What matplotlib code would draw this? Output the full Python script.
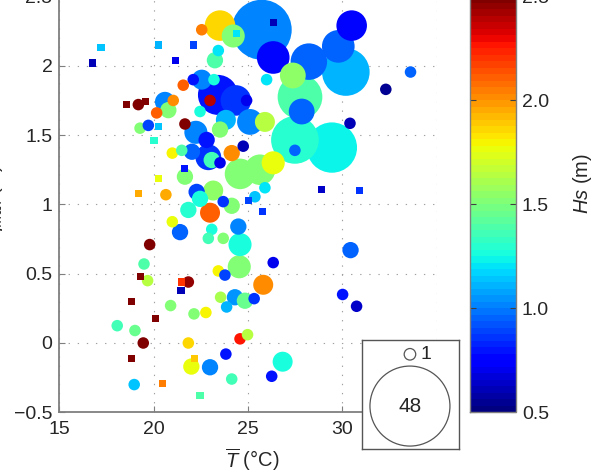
import matplotlib.pyplot as plt
import numpy as np
from matplotlib.cm import ScalarMappable
from matplotlib.colors import Normalize

# circles: mean temperature, y value, significant wave height, count
temp_c = [19.28, 19.72, 20.16, 19.19, 20.99, 21.49, 21.66, 20.65, 22.28, 21.84,
          20.99, 21.40, 19.79, 19.49, 19.68, 21.84, 20.90, 22.14, 18.07, 19.01,
          19.45, 21.84, 22.00, 18.97, 23.43, 23.78, 24.54, 26.34, 24.58, 25.81,
          22.77, 23.55, 24.31, 24.84, 23.87, 25.33, 24.58, 24.98, 23.83, 22.99,
          26.84, 26.26, 24.14, 30.44, 30.02, 30.76, 22.55, 23.52, 24.22, 25.73,
          26.34, 23.43, 23.25, 22.10, 23.20, 22.55, 21.57, 20.60, 21.04, 20.78,
          22.99, 24.93, 21.66, 22.81, 22.90, 23.52, 23.08, 23.52, 24.14, 24.75,
          24.58, 25.64, 25.90, 26.34, 23.16, 22.46, 23.69, 24.14, 22.99, 25.37,
          24.49, 23.08, 22.90, 23.69, 30.50, 29.79, 28.23, 30.19, 27.38, 25.99,
          32.31, 33.62, 27.76, 27.85, 27.49, 27.49, 29.45, 30.41, 25.90,
          23.41, 24.36, 22.24, 25.11, 23.83, 22.03, 22.46]
y_c = [1.55, 1.57, 1.66, 1.72, 1.37, 1.39, 1.20, 1.07, 1.09, 0.96,
       0.875, 0.80, 0.71, 0.57, 0.45, 0.44, 0.27, 0.21, 0.125, 0.09,
       0.0, 0.0, -0.17, -0.30, 0.52, 0.49, 0.55, 0.58, 0.71, 0.42,
       0.22, 0.33, 0.33, 0.305, 0.26, 0.32, 0.03, 0.06, -0.08, -0.175,
       -0.135, -0.24, -0.26, 0.67, 0.35, 0.265, 2.26, 2.29, 2.215, 2.26,
       2.06, 2.11, 2.04, 1.90, 1.90, 1.90, 1.86, 1.74, 1.75, 1.68,
       1.75, 1.75, 1.58, 1.465, 1.34, 1.54, 1.32, 1.30, 1.37, 1.42,
       1.22, 1.25, 1.595, 1.30, 1.10, 1.04, 1.02, 0.99, 0.94, 1.055,
       0.84, 0.82, 0.755, 0.755, 2.29, 2.14, 2.03, 1.955, 1.93, 1.90,
       1.83, 1.955, 1.775, 1.67, 1.39, 1.465, 1.41, 1.585, 1.12,
       1.79, 1.75, 1.52, 1.595, 1.61, 1.38, 1.67]
hs_c = [1.5, 0.9, 2.1, 2.5, 1.8, 1.4, 1.5, 1.95, 0.9, 1.3,
        1.75, 0.95, 2.5, 1.4, 1.65, 2.45, 1.5, 1.5, 1.35, 1.45,
        2.5, 1.85, 1.75, 1.15, 1.8, 0.9, 1.5, 0.7, 1.25, 2.0,
        1.8, 1.6, 1.05, 1.45, 1.1, 0.85, 2.25, 1.65, 0.8, 1.0,
        1.25, 0.8, 1.35, 0.95, 0.8, 0.65, 2.05, 1.85, 1.5, 1.0,
        0.75, 1.2, 1.4, 0.8, 1.25, 1.0, 2.1, 1.0, 2.0, 1.5,
        2.4, 0.7, 2.5, 0.8, 0.85, 1.5, 1.35, 0.7, 2.0, 0.6,
        1.5, 1.5, 1.65, 1.75, 1.55, 1.25, 0.85, 1.5, 2.1, 1.15,
        1.0, 1.25, 1.35, 1.5, 0.75, 0.95, 0.95, 1.1, 1.55, 1.2,
        0.55, 0.95, 1.4, 0.95, 0.95, 1.3, 1.22, 0.6, 1.2,
        0.8, 0.85, 1.0, 1.0, 1.1, 0.95, 1.25]
n_c = [1, 1, 1, 1, 1, 1, 2, 1, 2, 2,
       1, 2, 1, 1, 1, 1, 1, 1, 1, 1,
       1, 1, 2, 1, 1, 1, 4, 1, 4, 3,
       1, 1, 2, 2, 1, 1, 1, 1, 1, 2,
       3, 1, 1, 2, 1, 1, 1, 7, 4, 27,
       8, 1, 2, 1, 1, 3, 1, 3, 1, 2,
       1, 1, 1, 2, 5, 2, 2, 1, 2, 1,
       7, 7, 3, 4, 3, 2, 1, 2, 3, 1,
       2, 1, 1, 1, 7, 8, 10, 17, 5, 1,
       1, 1, 15, 5, 1, 17, 19, 1, 1,
       12, 7, 4, 5, 3, 2, 1]

# squares
temp_s = [17.21, 20.26, 22.09, 16.77, 21.16, 18.57, 19.58, 20.25, 20.02, 21.66,
          20.26, 19.18, 19.30, 21.49, 21.45, 18.85, 20.12, 18.84, 22.16, 20.46,
          22.46, 26.34, 28.90, 30.91, 25.78, 24.40, 25.02]
y_s = [2.13, 2.15, 2.15, 2.02, 2.04, 1.72, 1.74, 1.56, 1.46, 1.26,
       1.19, 1.08, 0.48, 0.44, 0.38, 0.30, 0.18, -0.11, -0.11, -0.29,
       -0.38, 2.31, 1.11, 1.10, 0.95, 2.23, 1.03]
hs_s = [1.15, 1.1, 0.9, 0.6, 0.7, 2.5, 2.5, 1.15, 1.3, 0.8,
        1.75, 1.95, 2.5, 2.2, 0.6, 2.5, 2.5, 2.5, 1.9, 2.05,
        1.4, 0.6, 0.65, 0.85, 0.85, 1.2, 0.9]

legend_n = [1, 48]

plt.rcParams['font.family'] = 'Liberation Sans'
plt.rcParams['mathtext.fontset'] = 'custom'
plt.rcParams['mathtext.rm'] = 'Liberation Sans'
plt.rcParams['mathtext.it'] = 'Liberation Sans:italic'

cmap = plt.get_cmap('jet', 64)
norm = Normalize(0.5, 2.5)
K = 69.1  # marker area (pt^2) per count
grey = '#7f7f7f'
txt = '#262626'
fs = 14

fig = plt.figure(figsize=(5.95, 4.75), dpi=100)
ax = fig.add_axes([0.0997, 0.132, 0.634, 0.8754])

temp_c = np.array(temp_c)
y_c = np.array(y_c)
hs_c = np.array(hs_c)
n_c = np.array(n_c)
order = np.argsort(-n_c, kind='stable')
ax.scatter(temp_c[order], y_c[order], s=K * n_c[order], c=hs_c[order],
           cmap=cmap, norm=norm, linewidths=0, zorder=3)
ax.scatter(temp_s, y_s, s=26, marker='s', c=hs_s, cmap=cmap, norm=norm,
           linewidths=0, zorder=4)

ax.set_xlim(15, 35)
ax.set_ylim(-0.5, 2.5)
ax.set_xticks([15, 20, 25, 30, 35])
ax.set_yticks([-0.5, 0, 0.5, 1, 1.5, 2, 2.5])
ax.set_yticklabels(['\u22120.5', '0', '0.5', '1', '1.5', '2', '2.5'])
ax.grid(True, color='#a0a0a0', linestyle=(0, (1.2, 7)), linewidth=0.8, zorder=0)
ax.set_axisbelow(True)
for side in ['top', 'right']:
    ax.spines[side].set_visible(False)
for side in ['left', 'bottom']:
    ax.spines[side].set_color(grey)
    ax.spines[side].set_linewidth(1.3)
ax.tick_params(direction='in', length=4, color=grey, labelsize=fs,
               labelcolor=txt, pad=5)
ax.tick_params(axis='x', pad=6.5)

fig.text(0.4235, 0.032, r'$\overline{T}$ (°C)', ha='center', va='center',
         fontsize=fs + 0.5, color=txt)
fig.text(-0.009, 0.577, r'$\eta_{max}$ (m)', ha='center', va='center',
         rotation=90, fontsize=fs, color=txt)

cax = fig.add_axes([0.790, 0.132, 0.0768, 0.8754])
cb = fig.colorbar(ScalarMappable(norm=norm, cmap=cmap), cax=cax)
cb.set_ticks([0.5, 1, 1.5, 2, 2.5])
cb.outline.set_edgecolor(grey)
cb.outline.set_linewidth(1.0)
cax.tick_params(direction='in', length=4, color='#404040', labelsize=fs,
                labelcolor=txt, left=True, right=True, pad=4.5)
fig.text(0.979, 1 - 183 / 475, r'$Hs$ (m)', ha='center', va='center',
         rotation=90, fontsize=fs + 0.5, color=txt)

# size key
lax = fig.add_axes([0.6079, 0.0547, 0.1635, 0.2295], zorder=5)
lax.set_facecolor('white')
lax.set_xlim(0, 1)
lax.set_ylim(0, 1)
lax.set_xticks([])
lax.set_yticks([])
for sp in lax.spines.values():
    sp.set_color('#555555')
    sp.set_linewidth(1.0)
lax.scatter([0.496, 0.496], [0.869, 0.394], s=[K * v for v in legend_n],
            facecolors='none', edgecolors='#555555', linewidths=0.9)
lax.text(0.6, 0.87, str(legend_n[0]), ha='left', va='center', fontsize=fs, color=txt)
lax.text(0.496, 0.394, str(legend_n[1]), ha='center', va='center', fontsize=fs + 1, color=txt)

fig.savefig('out.png', dpi=100)
